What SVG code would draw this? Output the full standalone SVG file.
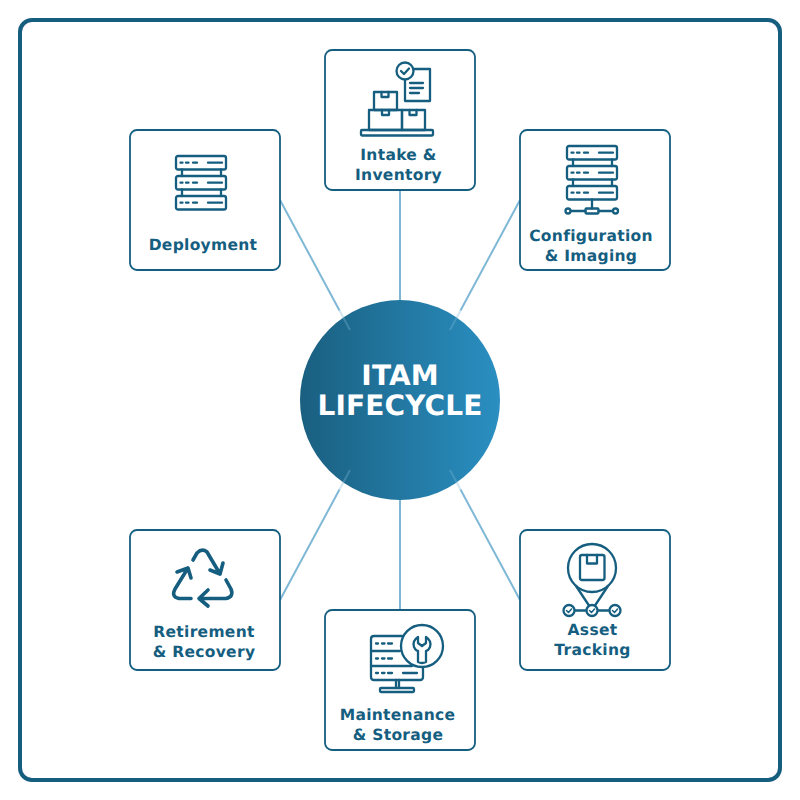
<svg xmlns="http://www.w3.org/2000/svg" xmlns:xlink="http://www.w3.org/1999/xlink" width="800" height="800" viewBox="0 0 800 800">
<style>
text{text-rendering:geometricPrecision}
.card{fill:#fff;stroke:#155e7f;stroke-width:1.8}
.lbl{font:bold 15.500px "DejaVu Sans",sans-serif;fill:#155e7f;text-anchor:middle;letter-spacing:.3px}
.title{font:bold 28px "DejaVu Sans",sans-serif;fill:#fff;text-anchor:middle;letter-spacing:.1px}
.ic{fill:none;stroke:#155e7f;stroke-width:2.300;stroke-linecap:round;stroke-linejoin:round}
.ic2{fill:none;stroke:#155e7f;stroke-width:3.600;stroke-linecap:round;stroke-linejoin:round}
.c{stroke:#7fb8d6;stroke-width:2;fill:none}
.ci{stroke:#7fb8d6;stroke-width:2;fill:none;opacity:.35}
</style>
<defs>
<linearGradient id="g" x1="0" y1="0" x2="1" y2="0"><stop offset="0" stop-color="#1a5f80"/><stop offset="1" stop-color="#2a8fc1"/></linearGradient>
<g id="srv"><rect x="0" y="0" width="50" height="13.5" rx="2"/><path d="M4.500 6.700h2M10 6.700h2.500M17 6.700h4M32 6.700h14"/></g>
</defs>
<rect x="20" y="20" width="760" height="760" rx="12" fill="#fff" stroke="#155e7f" stroke-width="4"/>
<circle cx="400" cy="400" r="100" fill="url(#g)"/>
<g id="connectors">
<path class="c" d="M400 190V300M400 500V610M280 200L339.500 310.500M520 200L460.500 310.500M280 600L339.500 489.500M520 600L460.500 489.500"/>
<path class="ci" d="M339.500 310.500L350 330M460.500 310.500L450 330M339.500 489.500L350 470M460.500 489.500L450 470"/>
</g>
<g id="center"><text class="title" x="400" y="385">ITAM</text><text class="title" x="400" y="415">LIFECYCLE</text></g>
<g id="intake">
<rect class="card" x="325" y="50" width="150" height="140" rx="7"/>
<g class="ic">
<rect x="361" y="130" width="72" height="5.500" rx="1"/>
<rect x="369" y="110" width="33" height="20"/><rect x="402" y="110" width="23" height="20"/>
<rect x="374" y="92" width="23" height="18"/>
<path d="M382 110v5h7v-5M409.500 110v5h7v-5M381.500 92v5h7v-5"/>
<path d="M412 69H430V101H405V80"/><path d="M410 83H423M410 88H423M410 93H419"/>
<circle cx="405" cy="71" r="8.500" fill="#fff"/><path d="M401 71l3 3l5-5.500"/>
</g>
<text class="lbl" x="398.500" y="159.500">Intake &amp;</text><text class="lbl" x="398.500" y="180">Inventory</text>
</g>
<g id="deployment">
<rect class="card" x="130" y="130" width="150" height="140" rx="7"/>
<g class="ic">
<use href="#srv" x="176" y="156"/><use href="#srv" x="176" y="176"/><use href="#srv" x="176" y="196"/>
<path d="M182 169.500v6.500M221 169.500v6.500M182 189.500v6.500M221 189.500v6.500"/>
</g>
<text class="lbl" x="203" y="250">Deployment</text>
</g>
<g id="configuration">
<rect class="card" x="520" y="130" width="150" height="140" rx="7"/>
<g class="ic">
<use href="#srv" x="567" y="146"/><use href="#srv" x="567" y="166"/><use href="#srv" x="567" y="186"/>
<path d="M573 159.500v6.500M612 159.500v6.500M573 179.500v6.500M612 179.500v6.500"/>
<path d="M592 199.500V208.500M571 211H585.500M598.500 211H613"/>
<rect x="585.500" y="208.500" width="13" height="5" rx="1"/>
<circle cx="568" cy="211" r="2.500"/><circle cx="615.500" cy="211" r="2.500"/>
</g>
<text class="lbl" x="591" y="241">Configuration</text><text class="lbl" x="591" y="261">&amp; Imaging</text>
</g>
<g id="retirement">
<rect class="card" x="130" y="530" width="150" height="140" rx="7"/>
<g class="ic2">
<path d="M193 560L197 553Q202 548 207 552L220 574M210 570L220 574L223 563"/>
<path d="M226 580L231 589Q234 597 226 598.500L199 598.500M208 590L199 598.500L208 606"/>
<path d="M191 598.500H179Q171 597 175 589L188 568M177 572L188 568L191 578"/>
</g>
<text class="lbl" x="204" y="637">Retirement</text><text class="lbl" x="204" y="657">&amp; Recovery</text>
</g>
<g id="maintenance">
<rect class="card" x="325" y="610" width="150" height="140" rx="7"/>
<g class="ic">
<path d="M402 636H374Q371 636 371 639V677Q371 680 374 680H420Q423 680 423 677V668"/>
<path d="M371 651H400M371 666H412"/>
<path d="M376 643.500h2M382 643.500h2.500M388 643.500h4M376 658.500h2M382 658.500h2.500M388 658.500h4M376 673h2M382 673h2.500M388 673h4M403 673h14"/>
<path d="M396 680V688M399 680V688"/><rect x="380" y="688" width="34" height="4" rx="1"/>
<circle cx="422" cy="646" r="21" fill="#fff"/>
<path d="M418 637Q412 641 414 647Q416 651 418 651V662Q422 664 426 662V651Q428 651 430 647Q432 641 426 637V643L422 646L418 643Z"/>
</g>
<text class="lbl" x="397.500" y="720">Maintenance</text><text class="lbl" x="398" y="740">&amp; Storage</text>
</g>
<g id="tracking">
<rect class="card" x="520" y="530" width="150" height="140" rx="7"/>
<g class="ic">
<circle cx="592" cy="568" r="24"/>
<rect x="580" y="555" width="24.500" height="25" rx="2"/>
<path d="M587 555v8.500h10v-8.500"/>
<path d="M576 586L592 610L608 586"/>
<path d="M575 610.500H586M598 610.500H609"/>
<circle cx="569" cy="610.500" r="5.500" fill="#fff"/><circle cx="592" cy="610.500" r="5.500" fill="#fff"/><circle cx="615" cy="610.500" r="5.500" fill="#fff"/>
<path d="M566.500 610.500l2 2l3-3.500M589.500 610.500l2 2l3-3.500M612.500 610.500l2 2l3-3.500" stroke-width="1.500"/>
</g>
<text class="lbl" x="592.500" y="635">Asset</text><text class="lbl" x="592.500" y="655">Tracking</text>
</g>
</svg>
